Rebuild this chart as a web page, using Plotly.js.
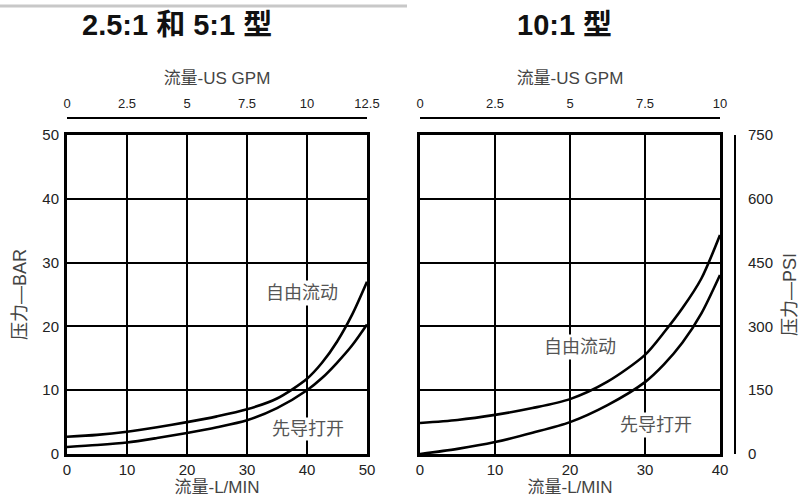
<!DOCTYPE html>
<html>
<head>
<meta charset="utf-8">
<script src="https://cdn.plot.ly/plotly-3.0.1.min.js"></script>
<style>html,body{margin:0;padding:0;background:#fff;}#chart{width:806px;height:503px;}</style>
</head>
<body>
<div id="chart"></div>
<script>
// ---- data ----
const leftFlowLmin = [0, 5, 10, 15, 20, 25, 30, 35, 40, 42.5, 45, 47.5, 50];
const leftFreeFlowBar = [2.7, 3.0, 3.5, 4.2, 5.0, 5.9, 7.0, 8.7, 11.8, 14.3, 17.6, 21.8, 27];
const leftPilotOpenBar = [1.1, 1.4, 1.8, 2.5, 3.3, 4.2, 5.3, 7.2, 10, 11.9, 14.3, 17, 20.3];

const rightFlowLmin = [0, 5, 10, 15, 20, 25, 30, 32.5, 35, 37.5, 40];
const rightFreeFlowPsi = [73, 80, 92, 108, 129, 170, 233, 285, 343, 412, 515];
const rightPilotOpenPsi = [0, 12, 28, 50, 75, 115, 169, 210, 262, 330, 421];

const leftLminTicks = [0, 10, 20, 30, 40, 50];
const leftGpmTicks = [0, 2.5, 5, 7.5, 10, 12.5];
const barTicks = [0, 10, 20, 30, 40, 50];
const rightLminTicks = [0, 10, 20, 30, 40];
const rightGpmTicks = [0, 2.5, 5, 7.5, 10];
const psiTicks = [0, 150, 300, 450, 600, 750];

const titleLeft = '2.5:1 和 5:1 型';
const titleRight = '10:1 型';
const labelFree = '自由流动';
const labelPilot = '先导打开';

// ---- layout helpers ----
const W = 806, H = 503;
const fx = p => p / W;
const fy = p => 1 - p / H;
const FONT = 'Liberation Sans, Arial, Noto Sans CJK SC, sans-serif';
const yDom = [fy(454), fy(135)];

const curveLine = {color: '#000', width: 2.6, shape: 'spline', smoothing: 0.8};

const traces = [
  {x: leftFlowLmin, y: leftFreeFlowBar, xaxis: 'x', yaxis: 'y', mode: 'lines', line: curveLine, name: labelFree},
  {x: leftFlowLmin, y: leftPilotOpenBar, xaxis: 'x', yaxis: 'y', mode: 'lines', line: curveLine, name: labelPilot},
  {x: rightFlowLmin, y: rightFreeFlowPsi, xaxis: 'x2', yaxis: 'y2', mode: 'lines', line: curveLine, name: labelFree},
  {x: rightFlowLmin, y: rightPilotOpenPsi, xaxis: 'x2', yaxis: 'y2', mode: 'lines', line: curveLine, name: labelPilot},
  // axis carriers (no visible marks): register the secondary scales
  {x: leftGpmTicks, y: leftGpmTicks.map(() => null), xaxis: 'x3', yaxis: 'y', mode: 'lines', hoverinfo: 'skip'},
  {x: rightGpmTicks, y: rightGpmTicks.map(() => null), xaxis: 'x4', yaxis: 'y2', mode: 'lines', hoverinfo: 'skip'},
  {x: rightLminTicks.map(() => null), y: rightLminTicks.map(() => null), xaxis: 'x2', yaxis: 'y4', mode: 'lines', hoverinfo: 'skip'}
];

const gridAxis = {
  showgrid: true, gridcolor: '#000', gridwidth: 2,
  zeroline: false, showline: true, mirror: true,
  linecolor: '#000', linewidth: 3, ticks: '',
  tickfont: {size: 15, color: '#222', family: FONT},
  fixedrange: true
};
const titleFont = {size: 17, color: '#444', family: FONT};

const layout = {
  width: W, height: H,
  margin: {l: 0, r: 0, t: 0, b: 0},
  paper_bgcolor: '#fff', plot_bgcolor: '#fff',
  showlegend: false, hovermode: false,
  font: {family: FONT},
  xaxis: Object.assign({}, gridAxis, {
    domain: [fx(67), fx(367)], range: [0, 50], anchor: 'y',
    tickvals: leftLminTicks, ticktext: leftLminTicks.map(String),
    title: {text: '流量-L/MIN', font: titleFont, standoff: 5}
  }),
  yaxis: Object.assign({}, gridAxis, {
    domain: yDom, range: [0, 50], anchor: 'x',
    tickvals: barTicks, ticktext: barTicks.map(String),
    ticklabelstandoff: 2,
    title: {text: '压力—BAR', font: {size: 18, color: '#444', family: FONT}, standoff: 12}
  }),
  xaxis3: {
    overlaying: 'x', side: 'top', anchor: 'free', position: fy(118),
    range: [0, 12.5], tickvals: leftGpmTicks, ticktext: leftGpmTicks.map(String),
    showgrid: false, zeroline: false, showline: true, linecolor: '#000', linewidth: 2,
    ticks: '', tickfont: {size: 13, color: '#222', family: FONT}, ticklabelstandoff: 4,
    title: {text: '流量-US GPM', font: titleFont, standoff: 6}, fixedrange: true
  },
  xaxis2: Object.assign({}, gridAxis, {
    domain: [fx(420), fx(720)], range: [0, 40], anchor: 'y2',
    tickvals: rightLminTicks, ticktext: rightLminTicks.map(String),
    title: {text: '流量-L/MIN', font: titleFont, standoff: 5}
  }),
  yaxis2: Object.assign({}, gridAxis, {
    domain: yDom, range: [0, 750], anchor: 'x2',
    tickvals: psiTicks, showticklabels: false
  }),
  xaxis4: {
    overlaying: 'x2', side: 'top', anchor: 'free', position: fy(118),
    range: [0, 10], tickvals: rightGpmTicks, ticktext: rightGpmTicks.map(String),
    showgrid: false, zeroline: false, showline: true, linecolor: '#000', linewidth: 2,
    ticks: '', tickfont: {size: 13, color: '#222', family: FONT}, ticklabelstandoff: 4,
    title: {text: '流量-US GPM', font: titleFont, standoff: 6}, fixedrange: true
  },
  yaxis4: {
    overlaying: 'y2', side: 'right', anchor: 'free', position: fx(735),
    range: [0, 750], tickvals: psiTicks, ticktext: psiTicks.map(String),
    showgrid: false, zeroline: false, showline: true, linecolor: '#000', linewidth: 2,
    ticks: '', tickfont: {size: 15, color: '#222', family: FONT}, ticklabelstandoff: 9,
    title: {text: '压力—PSI', font: {size: 18, color: '#444', family: FONT}, standoff: 10}, fixedrange: true
  },
  shapes: [
    {type: 'line', xref: 'paper', yref: 'paper', x0: 0, x1: fx(407), y0: fy(6), y1: fy(6),
     line: {color: '#c8c8c8', width: 3}}
  ],
  annotations: [
    {text: '<b>' + titleLeft + '</b>', xref: 'paper', yref: 'paper', x: fx(177), y: fy(25),
     xanchor: 'center', yanchor: 'middle',
     showarrow: false, font: {size: 29, color: '#111', family: FONT}},
    {text: '<b>' + titleRight + '</b>', xref: 'paper', yref: 'paper', x: fx(564), y: fy(25),
     xanchor: 'center', yanchor: 'middle',
     showarrow: false, font: {size: 29, color: '#111', family: FONT}},
    {text: labelFree, xref: 'x', yref: 'y', x: 39.1, y: 25.2, showarrow: false,
     bgcolor: '#fff', borderpad: 2, font: {size: 18, color: '#555', family: FONT}},
    {text: labelPilot, xref: 'x', yref: 'y', x: 40.2, y: 3.9, showarrow: false,
     bgcolor: '#fff', borderpad: 1, font: {size: 18, color: '#555', family: FONT}},
    {text: labelFree, xref: 'x2', yref: 'y2', x: 21.3, y: 252, showarrow: false,
     bgcolor: '#fff', borderpad: 2, font: {size: 18, color: '#555', family: FONT}},
    {text: labelPilot, xref: 'x2', yref: 'y2', x: 31.5, y: 68, showarrow: false,
     bgcolor: '#fff', borderpad: 2, font: {size: 18, color: '#555', family: FONT}}
  ]
};

Plotly.newPlot('chart', traces, layout, {displayModeBar: false, staticPlot: true});
</script>
</body>
</html>
